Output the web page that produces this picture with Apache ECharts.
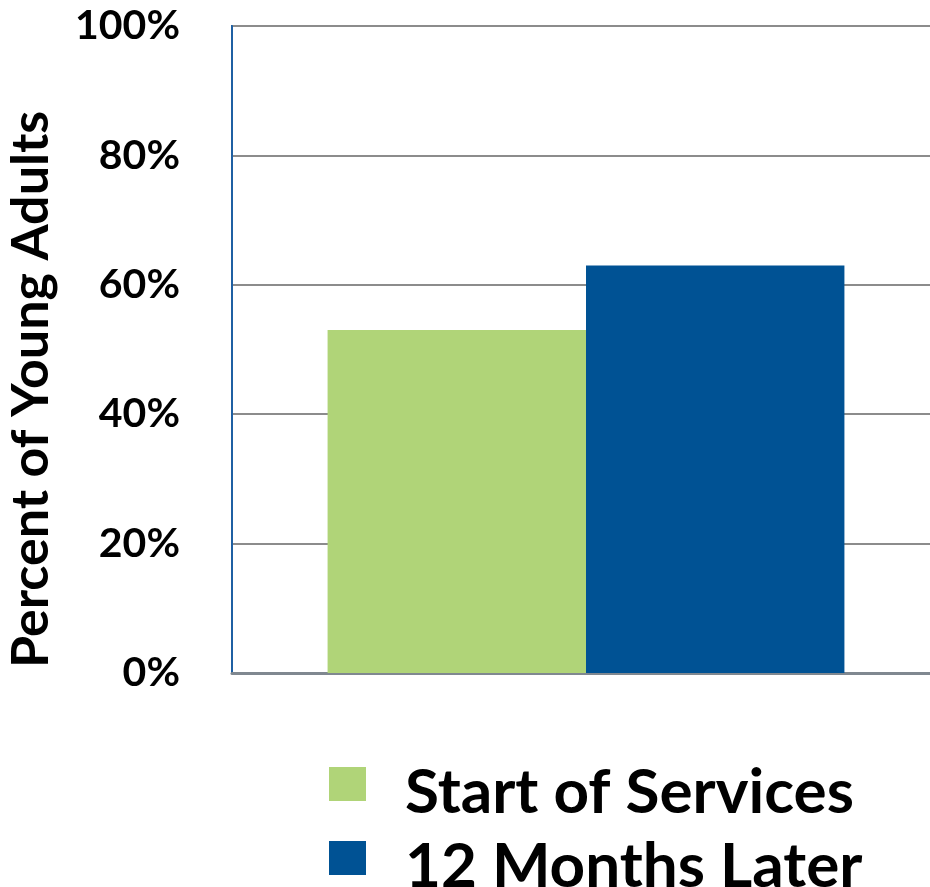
<!DOCTYPE html>
<html>
<head>
<meta charset="utf-8">
<script src="https://cdn.jsdelivr.net/npm/echarts@6/dist/echarts.min.js"></script>
<style>
  html, body { margin: 0; padding: 0; background: #fff; }
  #chart { width: 930px; height: 887px; }
</style>
</head>
<body>
<div id="chart"></div>
<script>
// Share of young adults at two points in time
const categories = ['Young Adults'];
const startOfServices = [53];
const twelveMonthsLater = [63];
const seriesNames = ['Start of Services', '12 Months Later'];
const yTicks = { min: 0, max: 100, interval: 20 };

const FONT = 'Lato';
const chart = echarts.init(document.getElementById('chart'), null, { renderer: 'canvas' });

// Square swatch sitting in the upper part of a taller box, so the label
// baseline lands a little below the swatch centre.
const SWATCH = 'path://M0 0 H37 V34 H0 Z M0 52 L0 52';

const legendText = {
  fontFamily: FONT,
  fontWeight: 'bold',
  fontSize: 62,
  color: '#000',
  lineHeight: 52,
  padding: [0, 0, 0, 34]
};

function legendFor(name, top) {
  return {
    orient: 'vertical',
    left: 329,
    top: top,
    padding: 0,
    itemWidth: 37,
    itemHeight: 52,
    icon: SWATCH,
    data: [name],
    textStyle: legendText
  };
}

chart.setOption({
  animation: false,
  grid: {
    left: 232, top: 26, right: -10, bottom: 214,
    outerBoundsMode: 'none',
    containLabel: false,
    show: true,
    borderColor: '#1F60A3',
    borderWidth: 2,
    backgroundColor: 'transparent'
  },
  legend: [
    legendFor(seriesNames[0], 762),
    legendFor(seriesNames[1], 836)
  ],
  xAxis: {
    type: 'category',
    data: categories,
    axisLine: { show: true, lineStyle: { color: '#808890', width: 3 } },
    axisTick: { show: false },
    axisLabel: { show: false }
  },
  yAxis: {
    type: 'value',
    min: yTicks.min,
    max: yTicks.max,
    interval: yTicks.interval,
    name: 'Percent of Young Adults',
    nameLocation: 'middle',
    nameGap: 175,
    nameRotate: 90,
    nameTextStyle: {
      fontFamily: FONT,
      fontWeight: 'bold',
      fontSize: 52,
      color: '#000',
      padding: [0, 80, 0, 0]
    },
    axisLine: { show: true, lineStyle: { color: '#1F60A3', width: 2 } },
    axisTick: { show: false },
    axisLabel: {
      formatter: '{value}%',
      margin: 52,
      fontFamily: FONT,
      fontWeight: 'bold',
      fontSize: 41,
      color: '#000'
    },
    splitLine: { show: true, lineStyle: { color: '#8C8C8C', width: 2 } }
  },
  series: [
    {
      name: seriesNames[0],
      type: 'bar',
      data: startOfServices,
      itemStyle: { color: '#B0D478' },
      barGap: '0%',
      barCategoryGap: '27%'
    },
    {
      name: seriesNames[1],
      type: 'bar',
      data: twelveMonthsLater,
      itemStyle: { color: '#005294' },
      barGap: '0%',
      barCategoryGap: '27%'
    }
  ]
});
</script>
</body>
</html>
